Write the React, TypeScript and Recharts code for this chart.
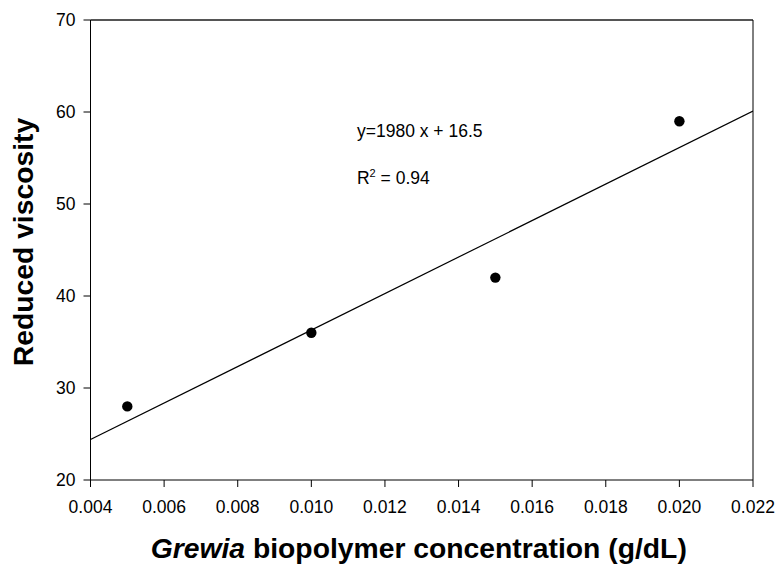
import React from "react";
import {
  ComposedChart,
  Scatter,
  Line,
  XAxis,
  YAxis,
  ReferenceLine,
  ReferenceDot,
} from "recharts";

// Measured data
const concentration = [0.005, 0.01, 0.015, 0.02];
const reducedViscosity = [28, 36, 42, 59];

// Regression line end points (y = 1980 x + 16.5)
const fitX = [0.004, 0.022];
const fitY = [24.4, 60.1];

const xTicks = [0.004, 0.006, 0.008, 0.01, 0.012, 0.014, 0.016, 0.018, 0.02, 0.022];
const yTicks = [20, 30, 40, 50, 60, 70];

const equationText = "y=1980 x + 16.5";
const r2Value = "0.94";

const pointData = concentration.map((x, i) => ({ x, y: reducedViscosity[i] }));
const fitData = fitX.map((x, i) => ({ x, y: fitY[i] }));

const FONT = "'Liberation Sans', Arial, Helvetica, sans-serif";

const XTitle = (props: any) => {
  const vb = props.viewBox;
  return (
    <text
      x={vb.x + vb.width / 2 - 3}
      y={vb.y + 78}
      textAnchor="middle"
      fontFamily={FONT}
      fontWeight="bold"
      fontSize={28.3}
      fill="#000"
    >
      <tspan fontStyle="italic">Grewia</tspan>
      <tspan> biopolymer concentration (g/dL)</tspan>
    </text>
  );
};

const YTitle = (props: any) => {
  const vb = props.viewBox;
  const cx = 33;
  const cy = vb.y + vb.height / 2 - 8;
  return (
    <text
      x={cx}
      y={cy}
      textAnchor="middle"
      transform={`rotate(-90, ${cx}, ${cy})`}
      fontFamily={FONT}
      fontWeight="bold"
      fontSize={28.3}
      fill="#000"
    >
      Reduced viscosity
    </text>
  );
};

const EqLabel = (props: any) => {
  const vb = props.viewBox;
  return (
    <text x={vb.x} y={vb.y} fontFamily={FONT} fontSize={17.5} fill="#000">
      {equationText}
    </text>
  );
};

const R2Label = (props: any) => {
  const vb = props.viewBox;
  return (
    <text x={vb.x} y={vb.y} fontFamily={FONT} fontSize={17.5} fill="#000">
      <tspan>R</tspan>
      <tspan dy={-7} fontSize={11}>2</tspan>
      <tspan dy={7}>{" = " + r2Value}</tspan>
    </text>
  );
};

const Dot = (props: any) => {
  const { cx, cy } = props;
  return <circle cx={cx} cy={cy} r={5.2} fill="#000" />;
};

export default function App() {
  return (
    <div
      style={{
        position: "absolute",
        left: 0,
        top: 0,
        width: 776,
        height: 564,
        overflow: "hidden",
        background: "#fff",
      }}
    >
      <ComposedChart
        width={776}
        height={564}
        margin={{ top: 20, right: 23, left: 0, bottom: 0 }}
      >
        <XAxis
          dataKey="x"
          type="number"
          domain={[0.004, 0.022]}
          ticks={xTicks}
          tickFormatter={(v: number) => v.toFixed(3)}
          allowDataOverflow
          height={84}
          tickSize={7}
          tickMargin={14}
          stroke="#000"
          tick={{ fill: "#000", fontSize: 17.5, fontFamily: FONT }}
          tickLine={{ stroke: "#000" }}
          axisLine={{ stroke: "#000" }}
          label={<XTitle />}
        />
        <YAxis
          dataKey="y"
          type="number"
          domain={[20, 70]}
          ticks={yTicks}
          allowDataOverflow
          width={90.5}
          tickSize={7}
          tickMargin={8}
          stroke="#000"
          tick={{ fill: "#000", fontSize: 17.5, fontFamily: FONT }}
          tickLine={{ stroke: "#000" }}
          axisLine={{ stroke: "#000" }}
          label={<YTitle />}
        />
        <ReferenceLine y={70} stroke="#555" strokeWidth={2} />
        <ReferenceLine x={0.022} stroke="#000" strokeWidth={1} />
        <Line
          data={fitData}
          dataKey="y"
          stroke="#000"
          strokeWidth={1.2}
          dot={false}
          activeDot={false}
          isAnimationActive={false}
          legendType="none"
        />
        <Scatter
          data={pointData}
          dataKey="y"
          fill="#000"
          shape={<Dot />}
          isAnimationActive={false}
        />
        <ReferenceDot x={0.01124} y={57.3} r={0} label={<EqLabel />} />
        <ReferenceDot x={0.01124} y={52.2} r={0} label={<R2Label />} />
      </ComposedChart>
    </div>
  );
}
